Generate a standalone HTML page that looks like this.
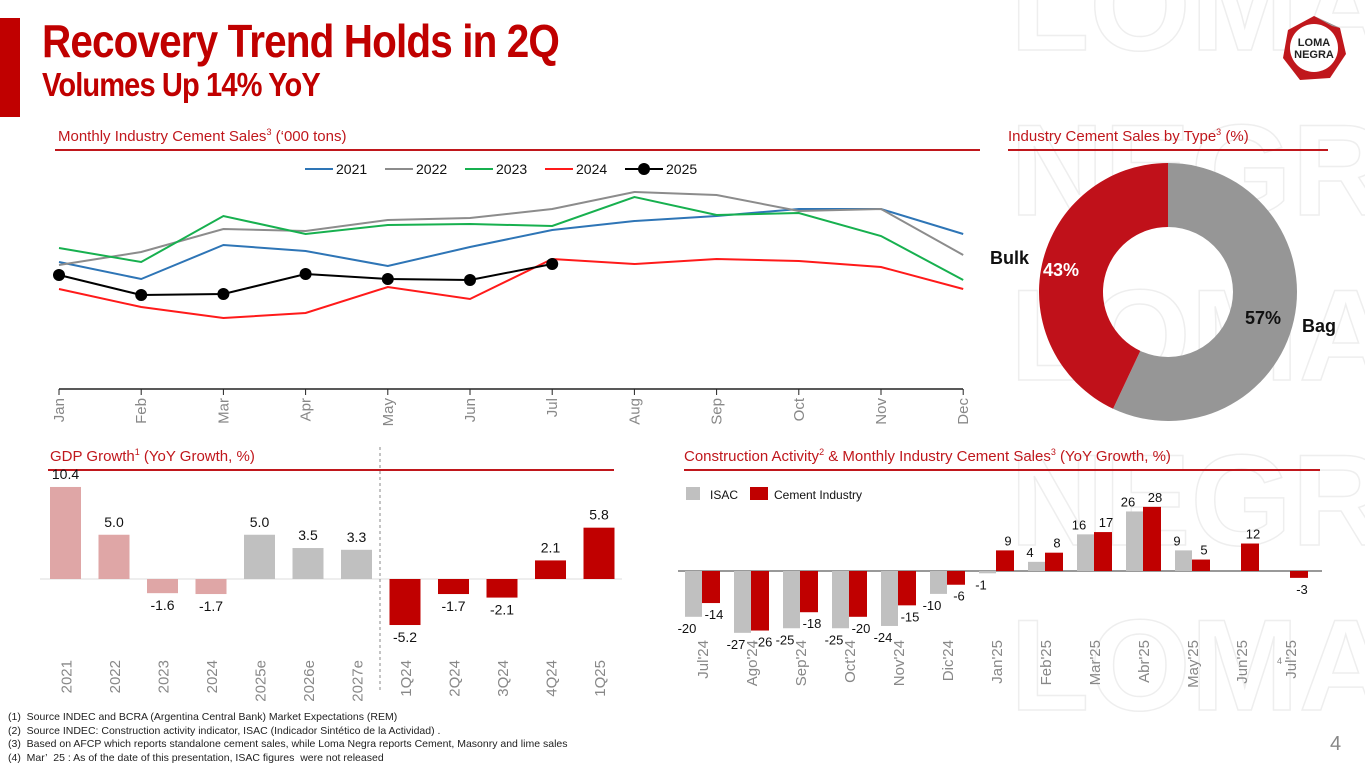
<!DOCTYPE html>
<html><head><meta charset="utf-8">
<style>
html,body{margin:0;width:1365px;height:768px;overflow:hidden}
body{background:#fff;font-family:"Liberation Sans","DejaVu Sans",sans-serif;position:relative}
.abs{position:absolute}
.title{font-family:"Liberation Sans Narrow","Liberation Sans",sans-serif;font-weight:bold;color:#c00000;transform-origin:0 0;white-space:nowrap;letter-spacing:-1px}
.sec{color:#c0171c;font-size:15px;white-space:nowrap}
.rule{height:1.5px;background:#c0171c}
svg text{font-family:"Liberation Sans","DejaVu Sans",sans-serif}
</style></head><body>
<svg class="abs" style="left:0;top:0" width="1365" height="768">
<g fill="none" stroke="#eeeeee" stroke-width="1.5" font-size="130" font-weight="bold" font-family="Liberation Sans Narrow, Liberation Sans, sans-serif">
<text x="1010" y="50">LOMA</text><text x="1010" y="215">NEGRA</text><text x="1010" y="380">LOMA</text><text x="1010" y="545">NEGRA</text><text x="1010" y="710">LOMA</text>
</g></svg>
<div class="abs" style="left:0;top:18px;width:20px;height:99px;background:#c00000"></div>
<div class="abs title" style="left:42px;top:14px;font-size:46px;transform:scaleX(0.88)">Recovery Trend Holds in 2Q</div>
<div class="abs title" style="left:42px;top:66px;font-size:33px;transform:scaleX(0.88)">Volumes Up 14% YoY</div>
<svg class="abs" style="left:1280px;top:14px" width="68" height="68">
<polygon points="34,2 60,14 66,40 50,64 20,66 3,44 8,16" fill="#c0171c"/><polygon points="34,2 60,14 52,12" fill="#999"/>
<circle cx="34" cy="34" r="24" fill="#fff"/>
<text x="34" y="32" text-anchor="middle" font-size="11" font-weight="bold" fill="#222">LOMA</text>
<text x="34" y="44" text-anchor="middle" font-size="11" font-weight="bold" fill="#222">NEGRA</text></svg>

<div class="abs sec" style="left:58px;top:127px">Monthly Industry Cement Sales<sup style="font-size:9px">3</sup> (‘000 tons)</div>
<div class="abs rule" style="left:55px;top:149px;width:925px"></div>
<div class="abs sec" style="left:1008px;top:127px">Industry Cement Sales by Type<sup style="font-size:9px">3</sup> (%)</div>
<div class="abs rule" style="left:1008px;top:149px;width:320px"></div>
<div class="abs sec" style="left:50px;top:447px">GDP Growth<sup style="font-size:9px">1</sup> (YoY Growth, %)</div>
<div class="abs rule" style="left:48px;top:469px;width:566px"></div>
<div class="abs sec" style="left:684px;top:447px">Construction Activity<sup style="font-size:9px">2</sup> &amp; Monthly Industry Cement Sales<sup style="font-size:9px">3</sup> (YoY Growth, %)</div>
<div class="abs rule" style="left:684px;top:469px;width:636px"></div>

<svg id="lc" class="abs" style="left:0;top:0" width="1365" height="768"></svg>
<svg id="dn" class="abs" style="left:0;top:0" width="1365" height="768"></svg>
<svg id="gdp" class="abs" style="left:0;top:0" width="1365" height="768"></svg>
<svg id="cc" class="abs" style="left:0;top:0" width="1365" height="768"></svg>

<div class="abs" style="left:8px;top:711px;font-size:10.5px;line-height:13.5px;color:#222;white-space:nowrap">
(1)&nbsp; Source INDEC and BCRA (Argentina Central Bank) Market Expectations (REM)<br>
(2)&nbsp; Source INDEC: Construction activity indicator, ISAC (Indicador Sintético de la Actividad) .<br>
(3)&nbsp; Based on AFCP which reports standalone cement sales, while Loma Negra reports Cement, Masonry and lime sales<br>
(4)&nbsp; Mar’&nbsp; 25 : As of the date of this presentation, ISAC figures&nbsp; were not released</div>
<div class="abs" style="left:1330px;top:733px;font-size:20px;color:#888">4</div>

<script>
const NS='http://www.w3.org/2000/svg';
function mk(p,t,a){const e=document.createElementNS(NS,t);for(const k in a)e.setAttribute(k,a[k]);p.appendChild(e);return e;}
// ---- line chart data
const months=['Jan','Feb','Mar','Apr','May','Jun','Jul','Aug','Sep','Oct','Nov','Dec'];
const s2021=[672,604,740,716,656,732,800,836,856,884,884,784];
const s2022=[660,712,804,796,840,848,884,952,940,876,884,700];
const s2023=[728,672,856,784,820,824,816,932,860,868,776,600];
const s2024=[564,492,448,468,572,524,684,664,684,676,652,564];
const s2025=[620,540,544,624,604,600,664];
const seriesNames=['2021','2022','2023','2024','2025'];
// ---- donut data
const typeLabels=['Bag','Bulk'];
const typeValues=[57,43];
// ---- gdp data
const gdpCats=['2021','2022','2023','2024','2025e','2026e','2027e','1Q24','2Q24','3Q24','4Q24','1Q25'];
const gdpVals=[10.4,5.0,-1.6,-1.7,5.0,3.5,3.3,-5.2,-1.7,-2.1,2.1,5.8];
const gdpKind=['a','a','a','a','e','e','e','q','q','q','q','q'];
// ---- construction data
const ccCats=["Jul'24","Ago'24","Sep'24","Oct'24","Nov'24","Dic'24","Jan'25","Feb'25","Mar'25","Abr'25","May'25","Jun'25","Jul'25"];
const isacVals=[-20,-27,-25,-25,-24,-10,-1,4,16,26,9,null,null];
const cementVals=[-14,-26,-18,-20,-15,-6,9,8,17,28,5,12,-3];

// line chart
(function(){
const s=document.getElementById('lc');
const x=i=>59+i*82.2, y=v=>430-v*0.25;
let ax=mk(s,'line',{x1:59,y1:389,x2:963,y2:389,stroke:'#222','stroke-width':1.5});

months.forEach((m,i)=>{
 mk(s,'line',{x1:x(i),y1:389,x2:x(i),y2:395,stroke:'#222'});
 const t=mk(s,'text',{x:0,y:0,transform:`translate(${x(i)+5},${398}) rotate(-90)`,'text-anchor':'end','font-size':15,fill:'#888'});
 t.textContent=m;
});
const all=[s2021,s2022,s2023,s2024,s2025], cols=['#2e75b6','#8c8c8c','#17b04f','#ff1a1a','#000'];
all.forEach((d,k)=>{
 const p=mk(s,'polyline',{points:d.map((v,i)=>x(i)+','+y(v)).join(' '),fill:'none',stroke:cols[k],'stroke-width':2});
 
});
s2025.forEach((v,i)=>{const c=mk(s,'circle',{cx:x(i),cy:y(v),r:6,fill:'#000'});
 });
const lx=[305,385,465,545,625];
seriesNames.forEach((n,k)=>{
 const g=mk(s,'g',{});
 const w=k==4?38:28;
 mk(g,'line',{x1:lx[k],y1:169,x2:lx[k]+w,y2:169,stroke:cols[k],'stroke-width':2});
 if(k==4)mk(g,'circle',{cx:lx[k]+19,cy:169,r:6,fill:'#000'});
 const t=mk(g,'text',{x:lx[k]+w+3,y:174,'font-size':14,fill:'#111'});t.textContent=n;
});
})();

// donut
(function(){
const s=document.getElementById('dn');
const cx=1168,cy=292,R=129,r=65;let a0=0;const cols=['#969696','#c0111a'];
typeValues.forEach((v,k)=>{
 const a1=a0+v/100*2*Math.PI;
 const P=(a,rr)=>[cx+rr*Math.sin(a),cy-rr*Math.cos(a)];
 const [x0,y0]=P(a0,R),[x1,y1]=P(a1,R),[x2,y2]=P(a1,r),[x3,y3]=P(a0,r);const lg=(a1-a0)>Math.PI?1:0;
 const p=mk(s,'path',{d:`M${x0},${y0}A${R},${R} 0 ${lg} 1 ${x1},${y1}L${x2},${y2}A${r},${r} 0 ${lg} 0 ${x3},${y3}Z`,fill:cols[k]});
 
 a0=a1;
});
const t1=mk(s,'text',{x:1245,y:324,'font-size':18,'font-weight':'bold',fill:'#111'});t1.textContent=typeValues[0]+'%';

const t2=mk(s,'text',{x:1302,y:332,'font-size':18,'font-weight':'bold',fill:'#111'});t2.textContent=typeLabels[0];

const t3=mk(s,'text',{x:1043,y:276,'font-size':18,'font-weight':'bold',fill:'#fff'});t3.textContent=typeValues[1]+'%';

const t4=mk(s,'text',{x:990,y:264,'font-size':18,'font-weight':'bold',fill:'#111'});t4.textContent=typeLabels[1];

})();

// gdp
(function(){
const s=document.getElementById('gdp');
const base=579,k=8.85,x=i=>50+i*48.5,w=31;
mk(s,'line',{x1:40,y1:base,x2:622,y2:base,stroke:'#ddd'});
const dl=mk(s,'line',{x1:380,y1:447,x2:380,y2:690,stroke:'#888','stroke-dasharray':'3,3'});

const col={a:'#dfa6a6',e:'#c0c0c0',q:'#c00000'};
gdpVals.forEach((v,i)=>{
 const h=Math.abs(v)*k;
 const b=mk(s,'rect',{x:x(i),y:v>=0?base-h:base,width:w,height:h,fill:col[gdpKind[i]]});
 
 const t=mk(s,'text',{x:x(i)+w/2,y:v>=0?base-h-8:base+h+17,'text-anchor':'middle','font-size':14,fill:'#111'});
 t.textContent=v.toFixed(1);
 const c=mk(s,'text',{x:0,y:0,transform:`translate(${x(i)+w/2+6},${660}) rotate(-90)`,'text-anchor':'end','font-size':15,fill:'#888'});
 c.textContent=gdpCats[i];
});
})();

// construction
(function(){
const s=document.getElementById('cc');
const base=571,k=2.29,gx=i=>685+i*49,w=17;
mk(s,'line',{x1:678,y1:base,x2:1322,y2:base,stroke:'#333'});
const lg1=mk(s,'g',{});
mk(lg1,'rect',{x:686,y:487,width:14,height:13,fill:'#c0c0c0'});
const a=mk(lg1,'text',{x:710,y:499,'font-size':12,fill:'#111'});a.textContent='ISAC';
const lg2=mk(s,'g',{});
mk(lg2,'rect',{x:750,y:487,width:18,height:13,fill:'#c00000'});
const b=mk(lg2,'text',{x:774,y:499,'font-size':12,fill:'#111'});b.textContent='Cement Industry';
ccCats.forEach((c,i)=>{
 [[isacVals[i],'#c0c0c0',0,'isac'],[cementVals[i],'#c00000',17,'cement']].forEach(([v,col,off,nm])=>{
  if(v===null)return;
  const h=Math.abs(v)*k;
  const r=mk(s,'rect',{x:gx(i)+off,y:v>=0?base-h:base,width:nm=='cement'?18:w,height:Math.max(h,1),fill:col});
  
  const t=mk(s,'text',{x:gx(i)+off+(nm=='isac'?2:12),y:v>=0?base-h-5:base+h+16,'text-anchor':'middle','font-size':13,fill:'#111'});
  t.textContent=v;
 });
 const l=mk(s,'text',{x:0,y:0,transform:`translate(${gx(i)+23},${640}) rotate(-90)`,'text-anchor':'end','font-size':15,fill:'#888'});
 l.textContent=c;
});
const n=mk(s,'text',{x:1277,y:664,'font-size':9,fill:'#888'});n.textContent='4';

})();
</script>
</body></html>
